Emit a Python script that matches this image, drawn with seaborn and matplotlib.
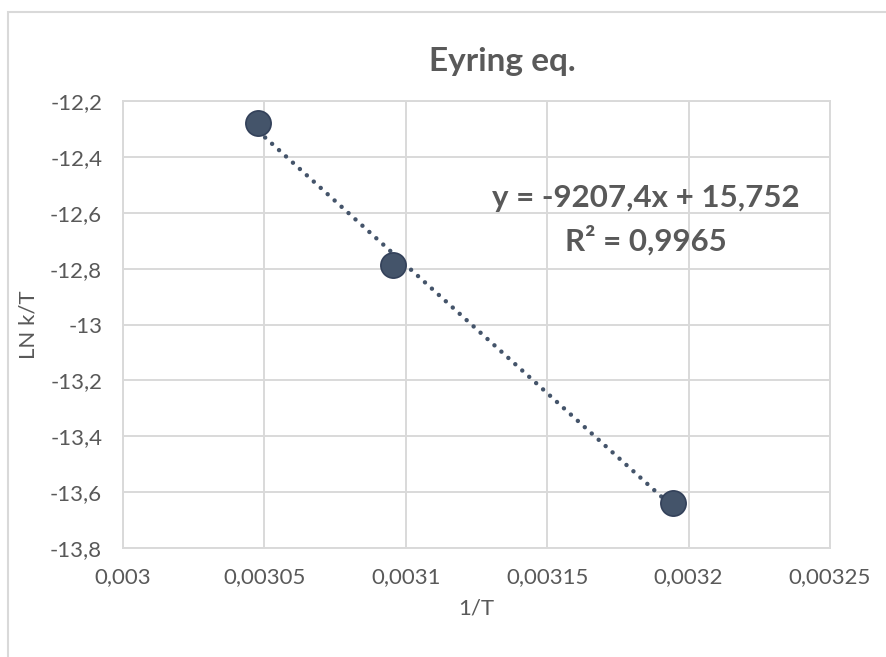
import numpy as np
import pandas as pd
import matplotlib
matplotlib.use("Agg")
import matplotlib.pyplot as plt
import seaborn as sns
from matplotlib.patches import Rectangle

# ---- data ----
inv_T = [0.0030478, 0.0030953, 0.0031944]
ln_k_T = [-12.279, -12.787, -13.639]
x_ticks = [0.003, 0.00305, 0.0031, 0.00315, 0.0032, 0.00325]
x_tick_labels = ["0,003", "0,00305", "0,0031", "0,00315", "0,0032", "0,00325"]
y_ticks = [-12.2, -12.4, -12.6, -12.8, -13.0, -13.2, -13.4, -13.6, -13.8]
y_tick_labels = ["-12,2", "-12,4", "-12,6", "-12,8", "-13", "-13,2", "-13,4", "-13,6", "-13,8"]
title = "Eyring eq."
eq_text = "y = -9207,4x + 15,752"
r2_text = "R² = 0,9965"
x_label = "1/T"
y_label = "LN k/T"

sns.set_theme(style="white")
plt.rcParams['font.family'] = ['Lato', 'DejaVu Sans']

grey_txt = "#595959"
grid_c = "#D9D9D9"
pt_c = "#44546A"

df = pd.DataFrame({"x": inv_T, "y": ln_k_T})

fig = plt.figure(figsize=(8.87, 6.57), dpi=100)
fig.patch.set_facecolor("white")
ax = fig.add_axes([123/887, 1-548/657, (830-123)/887, (548-101)/657])

# trendline from regression
coef = np.polyfit(df["x"], df["y"], 1)
xs = np.array([df["x"].min(), df["x"].max()])
ax.plot(xs, np.polyval(coef, xs), color=pt_c, lw=3.2,
        linestyle=(0, (0.01, 2.1)), dash_capstyle="round", zorder=2)

sns.scatterplot(data=df, x="x", y="y", ax=ax, s=330, color=pt_c,
                edgecolor="#33415A", linewidth=1.2, zorder=3)

ax.set_xlim(0.003, 0.00325)
ax.set_ylim(-13.8, -12.2)
ax.set_xticks(x_ticks)
ax.set_xticklabels(x_tick_labels)
ax.set_yticks(y_ticks)
ax.set_yticklabels(y_tick_labels)
ax.tick_params(axis="both", length=0, labelsize=16, labelcolor=grey_txt)
ax.tick_params(axis="x", pad=14)
ax.tick_params(axis="y", pad=15)
ax.grid(True, color=grid_c, lw=1.4)
ax.set_axisbelow(True)
for s in ax.spines.values():
    s.set_color(grid_c)
    s.set_linewidth(1.4)

ax.set_xlabel(x_label, fontsize=16, color=grey_txt, labelpad=8)
ax.set_ylabel(y_label, fontsize=16, color=grey_txt, labelpad=8)

fig.text(502/887, 1-62/657, title, ha="center", va="center",
         fontsize=24, fontweight="bold", color=grey_txt)

ax.text(0.003185, -12.58, eq_text, ha="center", va="baseline",
        fontsize=22.5, fontweight="bold", color=grey_txt)
ax.text(0.003185, -12.735, r2_text, ha="center", va="baseline",
        fontsize=22.5, fontweight="bold", color=grey_txt)

# outer chart border
fig.patches.append(Rectangle((8/887, -0.5), 2, 1.5 - 12/657,
                             transform=fig.transFigure, fill=False,
                             edgecolor=grid_c, lw=1.5))

fig.savefig("out.png", dpi=100)
